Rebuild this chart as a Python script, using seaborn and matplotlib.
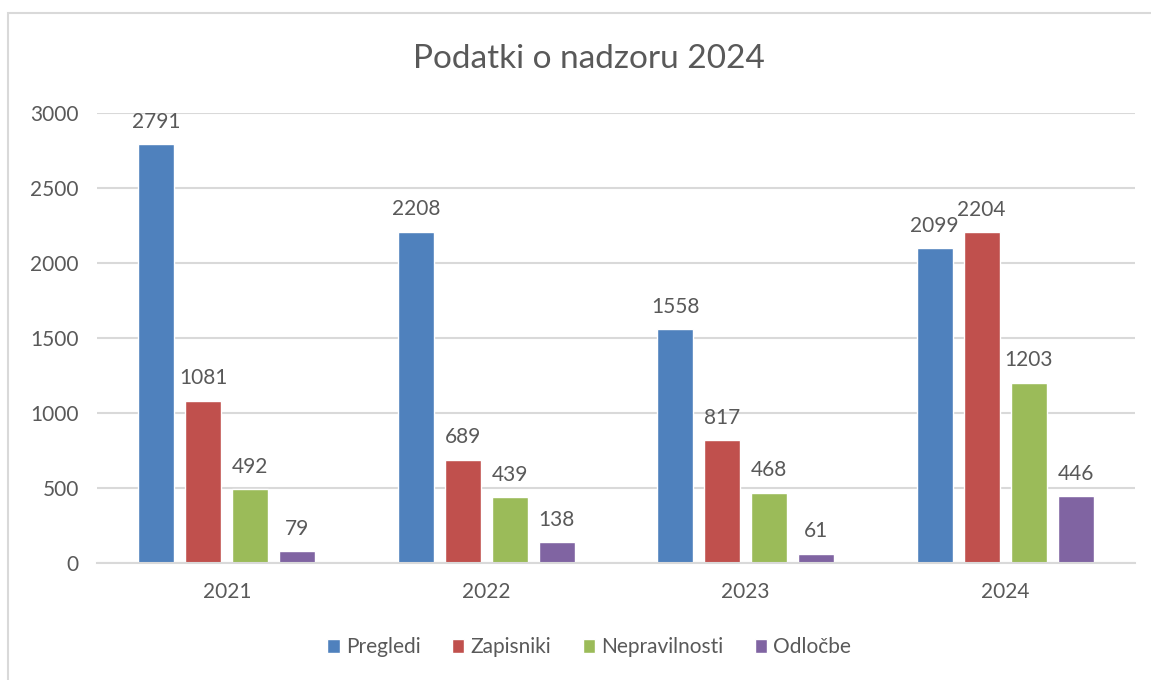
import pandas as pd
import seaborn as sns
import matplotlib.pyplot as plt
from matplotlib.patches import Rectangle

# podatki
leta = ['2021', '2022', '2023', '2024']
pregledi = [2791, 2208, 1558, 2099]
zapisniki = [1081, 689, 817, 2204]
nepravilnosti = [492, 439, 468, 1203]
odlocbe = [79, 138, 61, 446]
serije = ['Pregledi', 'Zapisniki', 'Nepravilnosti', 'Odločbe']
barve = ['#4F81BD', '#C0504D', '#9BBB59', '#8064A2']

rows = []
for s, vals in zip(serije, [pregledi, zapisniki, nepravilnosti, odlocbe]):
    for leto, v in zip(leta, vals):
        rows.append({'Leto': leto, 'Serija': s, 'Vrednost': v})
df = pd.DataFrame(rows)

sns.set_theme(style='white')
plt.rcParams['font.family'] = ['Lato', 'DejaVu Sans']
siva = '#595959'

fig = plt.figure(figsize=(11.51, 6.8), dpi=100)
ax = fig.add_axes([0.0843, 0.172, 0.9017, 0.662])

sns.barplot(data=df, x='Leto', y='Vrednost', hue='Serija', hue_order=serije,
            palette=barve, width=0.724, gap=0.234, saturation=1, ax=ax,
            legend=True)

for c in ax.containers:
    ax.bar_label(c, fmt='%d', padding=9, fontsize=15, color=siva)

ax.set_ylim(0, 3000)
ax.set_yticks([0, 500, 1000, 1500, 2000, 2500, 3000])
ax.yaxis.grid(True, color='#d9d9d9', linewidth=1.5)
ax.set_axisbelow(True)
for sp in ['top', 'right', 'left']:
    ax.spines[sp].set_visible(False)
ax.spines['bottom'].set_color('#d9d9d9')
ax.spines['bottom'].set_linewidth(1.5)
ax.tick_params(axis='both', length=0, labelsize=15, labelcolor=siva)
ax.tick_params(axis='y', pad=13)
ax.tick_params(axis='x', pad=14)
ax.set_xlabel('')
ax.set_ylabel('')

fig.suptitle('Podatki o nadzoru 2024', x=0.512, y=0.935, fontsize=24, color=siva)

h, l = ax.get_legend_handles_labels()
ax.legend_.remove()
fig.legend(h, l, loc='center', bbox_to_anchor=(0.512, 0.048), ncol=4,
           frameon=False, fontsize=15, labelcolor=siva, handlelength=0.6,
           handleheight=0.6, handletextpad=0.3, columnspacing=1.5)

fig.patches.append(Rectangle((8 / 1151, -0.01), 1.0, 1 - 13 / 680 + 0.01,
                             transform=fig.transFigure, fill=False,
                             edgecolor='#d9d9d9', linewidth=1.5))

fig.savefig('out.png', dpi=100)
